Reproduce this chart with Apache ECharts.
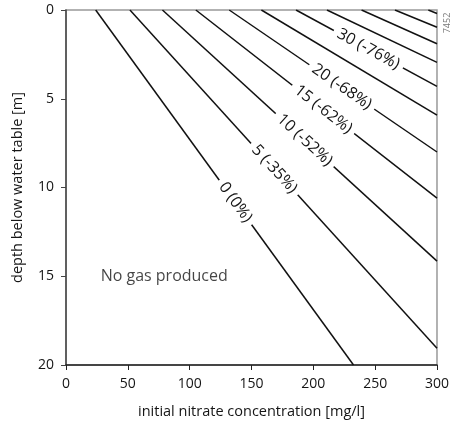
<!DOCTYPE html>
<html>
<head>
<meta charset="utf-8">
<script src="https://cdn.jsdelivr.net/npm/echarts@6/dist/echarts.min.js"></script>
<style>
  html, body { margin: 0; padding: 0; background: #fff; overflow: hidden; }
  #chart { width: 452px; height: 424px; }
</style>
</head>
<body>
<div id="chart"></div>
<script>
// Gas volume contours: each line runs from where it meets the water table (depth 0)
// to where it leaves the plot (bottom edge or the 300 mg/l edge).
const contourValues   = [0, 5, 10, 15, 20, 25, 30, 35, 40, 45, 50];
const startNitrate    = [24, 51.7, 78, 105, 132, 158, 186, 211, 239, 266, 293];
const endNitrate      = [232.5, 300, 300, 300, 300, 300, 300, 300, 300, 300, 300];
const endDepth        = [20, 19.05, 14.15, 10.6, 8.0, 5.92, 4.3, 2.95, 1.9, 0.97, 0.2];
const contourLabels   = ['0 (0%)', '5 (-35%)', '10 (-52%)', '15 (-62%)', '20 (-68%)', '', '30 (-76%)', '', '', '', ''];
const labelNitrate    = [137, 168.5, 193, 208, 223, null, 244.5, null, null, null, null];

const xTicks = [0, 50, 100, 150, 200, 250, 300];
const yTicks = [0, 5, 10, 15, 20];

const noGasText = 'No gas produced';
const noGasPoint = [28, 15];

const FONT = 'Open Sans';
const TEXT = '#151515';

function depthOn(i, c) {
  const c0 = startNitrate[i], c1 = endNitrate[i], d1 = endDepth[i];
  return (c - c0) / (c1 - c0) * d1;
}

const series = contourValues.map(function (v, i) {
  const s = {
    name: String(v),
    type: 'line',
    data: [[startNitrate[i], 0], [endNitrate[i], endDepth[i]]],
    showSymbol: false,
    symbol: 'none',
    lineStyle: { color: '#111', width: 1.5 },
    silent: true,
    animation: false
  };
  if (contourLabels[i]) {
    const c = labelNitrate[i];
    const a = c - 10, b = c + 10;
    s.markLine = {
      silent: true,
      symbol: ['none', 'none'],
      animation: false,
      lineStyle: { color: 'rgba(0,0,0,0)', width: 1, type: 'solid' },
      label: {
        show: true,
        position: 'insideMiddle',
        formatter: contourLabels[i],
        fontFamily: FONT,
        fontSize: 16,
        color: TEXT,
        backgroundColor: '#fff',
        padding: [0, 5],
        distance: 0
      },
      data: [[{ coord: [a, depthOn(i, a)] }, { coord: [b, depthOn(i, b)] }]]
    };
  }
  return s;
});

series.push({
  type: 'scatter',
  data: [noGasPoint],
  symbolSize: 0,
  silent: true,
  animation: false,
  label: {
    show: true,
    position: 'right',
    distance: 0,
    formatter: noGasText,
    fontFamily: FONT,
    fontSize: 16,
    color: TEXT
  }
});

const chart = echarts.init(document.getElementById('chart'), null, { renderer: 'canvas', width: 452, height: 424 });
chart.setOption({
  animation: false,
  backgroundColor: '#fff',
  grid: {
    left: 66, right: 11, top: 10, bottom: 59,
    show: true, borderColor: '#999', borderWidth: 1.5, backgroundColor: 'transparent'
  },
  xAxis: {
    type: 'value',
    min: xTicks[0], max: xTicks[xTicks.length - 1], interval: 50,
    name: 'initial nitrate concentration [mg/l]',
    nameLocation: 'middle',
    nameGap: 39,
    nameTextStyle: { fontFamily: FONT, fontSize: 14.5, color: TEXT },
    axisLine: { show: true, onZero: false, lineStyle: { color: '#222', width: 1.5 } },
    axisTick: { show: true, inside: false, length: 5, lineStyle: { color: '#222' } },
    axisLabel: { fontFamily: FONT, fontSize: 14, color: TEXT, margin: 12, showMaxLabel: true },
    splitLine: { show: false }
  },
  yAxis: {
    type: 'value',
    inverse: true,
    min: yTicks[0], max: yTicks[yTicks.length - 1], interval: 5,
    name: 'depth below water table [m]',
    nameLocation: 'middle',
    nameGap: 41,
    nameTextStyle: { fontFamily: FONT, fontSize: 14.5, color: TEXT },
    axisLine: { show: true, onZero: false, lineStyle: { color: '#444', width: 1.5 } },
    axisTick: { show: true, inside: false, length: 5, lineStyle: { color: '#444' } },
    axisLabel: { fontFamily: FONT, fontSize: 14, color: TEXT, margin: 12 },
    splitLine: { show: false }
  },
  graphic: [{
    type: 'text',
    x: 447, y: 23,
    rotation: Math.PI / 2,
    silent: true,
    style: { text: '7452', fontFamily: FONT, fontSize: 9, fill: '#777', textAlign: 'center', textVerticalAlign: 'middle' }
  }],
  series: series
});
</script>
</body>
</html>
